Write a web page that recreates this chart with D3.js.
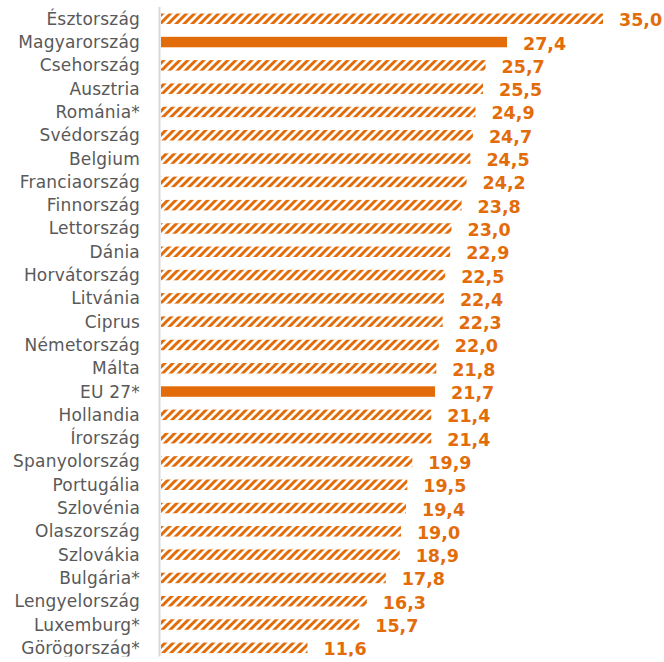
<!DOCTYPE html>
<html>
<head>
<meta charset="utf-8">
<script src="https://cdn.jsdelivr.net/npm/d3@7"></script>
<style>
  body { margin: 0; background: #fff; }
  svg { display: block; }
</style>
</head>
<body>
<script>
const countries = [
    "Észtország", "Magyarország", "Csehország", "Ausztria", "Románia*",
    "Svédország", "Belgium", "Franciaország", "Finnország", "Lettország",
    "Dánia", "Horvátország", "Litvánia", "Ciprus", "Németország",
    "Málta", "EU 27*", "Hollandia", "Írország", "Spanyolország",
    "Portugália", "Szlovénia", "Olaszország", "Szlovákia", "Bulgária*",
    "Lengyelország", "Luxemburg*", "Görögország*"
];
const values = [
    35.0, 27.4, 25.7, 25.5, 24.9,
    24.7, 24.5, 24.2, 23.8, 23.0,
    22.9, 22.5, 22.4, 22.3, 22.0,
    21.8, 21.7, 21.4, 21.4, 19.9,
    19.5, 19.4, 19.0, 18.9, 17.8,
    16.3, 15.7, 11.6
];
const solidBars = ["Magyarország", "EU 27*"];

const width = 664;
const height = 662;
const clipBottom = 656.5;
const orange = "#e36c0a";

const data = countries.map((c, i) => ({ name: c, value: values[i] }));

const svg = d3
    .select("body")
    .append("svg")
    .attr("width", width)
    .attr("height", height);

const defs = svg.append("defs");

// hatch pattern (wide upward diagonal)
defs.append("pattern")
    .attr("id", "hatch")
    .attr("patternUnits", "userSpaceOnUse")
    .attr("width", 8)
    .attr("height", 8)
    .append("path")
    .attr("d", "M-2,2 l4,-4 M0,8 l8,-8 M6,10 l4,-4")
    .attr("stroke", orange)
    .attr("stroke-width", 3);

// the picture is cut off a little above the bottom edge
defs.append("clipPath")
    .attr("id", "cut")
    .append("rect")
    .attr("x", 0)
    .attr("y", 0)
    .attr("width", width)
    .attr("height", clipBottom);

const g = svg.append("g").attr("clip-path", "url(#cut)");

const x = d3.scaleLinear().domain([0, 35]).range([161, 603]);

const y = d3.scaleBand()
    .domain(countries)
    .range([7.7, 658.9])
    .paddingInner(0.55)
    .paddingOuter(0.25);

g.selectAll("rect.bar")
    .data(data)
    .enter()
    .append("rect")
    .attr("class", "bar")
    .attr("x", x(0))
    .attr("y", d => y(d.name))
    .attr("width", d => x(d.value) - x(0))
    .attr("height", y.bandwidth())
    .style("fill", d => solidBars.includes(d.name) ? orange : "url(#hatch)");

// vertical axis line
g.append("line")
    .attr("x1", 159.5)
    .attr("x2", 159.5)
    .attr("y1", 7)
    .attr("y2", height)
    .attr("stroke", "#d9d9d9")
    .attr("stroke-width", 2);

// category labels
g.selectAll("text.cat")
    .data(data)
    .enter()
    .append("text")
    .attr("class", "cat")
    .attr("x", 140)
    .attr("y", d => y(d.name) + y.bandwidth() / 2 + 6)
    .attr("text-anchor", "end")
    .style("font-family", "'DejaVu Sans', sans-serif")
    .style("font-size", "17px")
    .style("letter-spacing", "0.2px")
    .style("fill", "#595959")
    .text(d => d.name);

// value labels
g.selectAll("text.val")
    .data(data)
    .enter()
    .append("text")
    .attr("class", "val")
    .attr("x", d => x(d.value) + 16)
    .attr("y", d => y(d.name) + y.bandwidth() / 2 + 7.5)
    .style("font-family", "'DejaVu Sans', sans-serif")
    .style("font-size", "17.5px")
    .style("font-weight", "bold")
    .style("fill", orange)
    .text(d => d3.format(".1f")(d.value).replace(".", ","));
</script>
</body>
</html>
